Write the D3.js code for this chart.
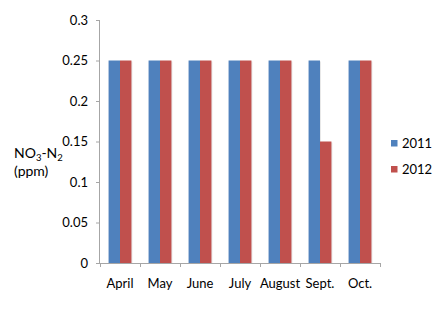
<!DOCTYPE html>
<html><head><meta charset="utf-8">
<script src="https://cdn.jsdelivr.net/npm/d3@7"></script>
<style>body{margin:0;background:#fff;}svg{display:block;font-family:Lato,"Open Sans",sans-serif;}</style>
</head><body>
<script>
const months = ["April","May","June","July","August","Sept.","Oct."];
const seriesNames = ["2011","2012"];
const values2011 = [0.25,0.25,0.25,0.25,0.25,0.25,0.25];
const values2012 = [0.25,0.25,0.25,0.25,0.25,0.15,0.25];
const yTicks = [0,0.05,0.1,0.15,0.2,0.25,0.3];
const colors = ["#4F81BD","#C0504D"];

const W=443,H=309;
const svg=d3.select("body").append("svg").attr("width",W).attr("height",H);
const x=d3.scaleBand().domain(months).range([100,380]).paddingInner(0).paddingOuter(0);
const y=d3.scaleLinear().domain([0,0.3]).range([263,20]);
const bw=x.bandwidth()/3.5;
const series=[values2011,values2012];

// y axis
const yAx=svg.append("g").attr("transform","translate(100,0)")
  .call(d3.axisLeft(y).tickValues(yTicks).tickSize(4).tickPadding(8).tickFormat(d=>String(+d.toFixed(2))));
yAx.select(".domain").attr("stroke","#a6a6a6").attr("d","M-0.5,20V263.5");
yAx.selectAll(".tick line").attr("stroke","#a6a6a6");
yAx.selectAll("text").attr("font-size",13).attr("fill","#000").attr("font-family","Lato");

// bars
series.forEach((vals,si)=>{
  const g=svg.append("g");
  g.selectAll("rect.sh").data(vals).enter().append("rect")
    .attr("x",(d,i)=>x(months[i])+bw*0.75+si*bw+1)
    .attr("y",d=>y(d)+1).attr("width",bw).attr("height",d=>y(0)-y(d)-1)
    .attr("fill","#d9d9d9").attr("opacity",0.6);
  g.selectAll("rect.b").data(vals).enter().append("rect")
    .attr("x",(d,i)=>x(months[i])+bw*0.75+si*bw)
    .attr("y",d=>y(d)).attr("width",bw).attr("height",d=>y(0)-y(d))
    .attr("fill",colors[si]);
});

// x axis
const xAx=svg.append("g").attr("transform","translate(0,263)")
  .call(d3.axisBottom(x).tickSize(0).tickPadding(16));
xAx.select(".domain").attr("stroke","#a6a6a6").attr("d","M100,0.5H380.5");
xAx.selectAll("text").attr("font-size",13).attr("fill","#000").attr("font-family","Lato");
svg.append("g").selectAll("line").data(d3.range(months.length+1)).enter().append("line")
  .attr("x1",i=>100+i*x.step()+0.5).attr("x2",i=>100+i*x.step()+0.5)
  .attr("y1",263).attr("y2",267).attr("stroke","#a6a6a6");

// y title
const t=svg.append("text").attr("x",14).attr("y",158).attr("font-size",14).attr("fill","#000");
t.append("tspan").text("NO");
t.append("tspan").text("3").attr("font-size",9.5).attr("dy",3);
t.append("tspan").text("-N").attr("dy",-3);
t.append("tspan").text("2").attr("font-size",9.5).attr("dy",3);
svg.append("text").attr("x",14).attr("y",176).attr("font-size",14).attr("fill","#000").text("(ppm)");

// legend
const lg=svg.append("g").selectAll("g").data(seriesNames).enter().append("g")
  .attr("transform",(d,i)=>`translate(391,${140+i*26})`);
lg.append("rect").attr("width",6.5).attr("height",6.5).attr("fill",(d,i)=>colors[i]);
lg.append("text").attr("x",11).attr("y",8).attr("font-size",13).attr("fill","#000").text(d=>d);
</script>
</body></html>
